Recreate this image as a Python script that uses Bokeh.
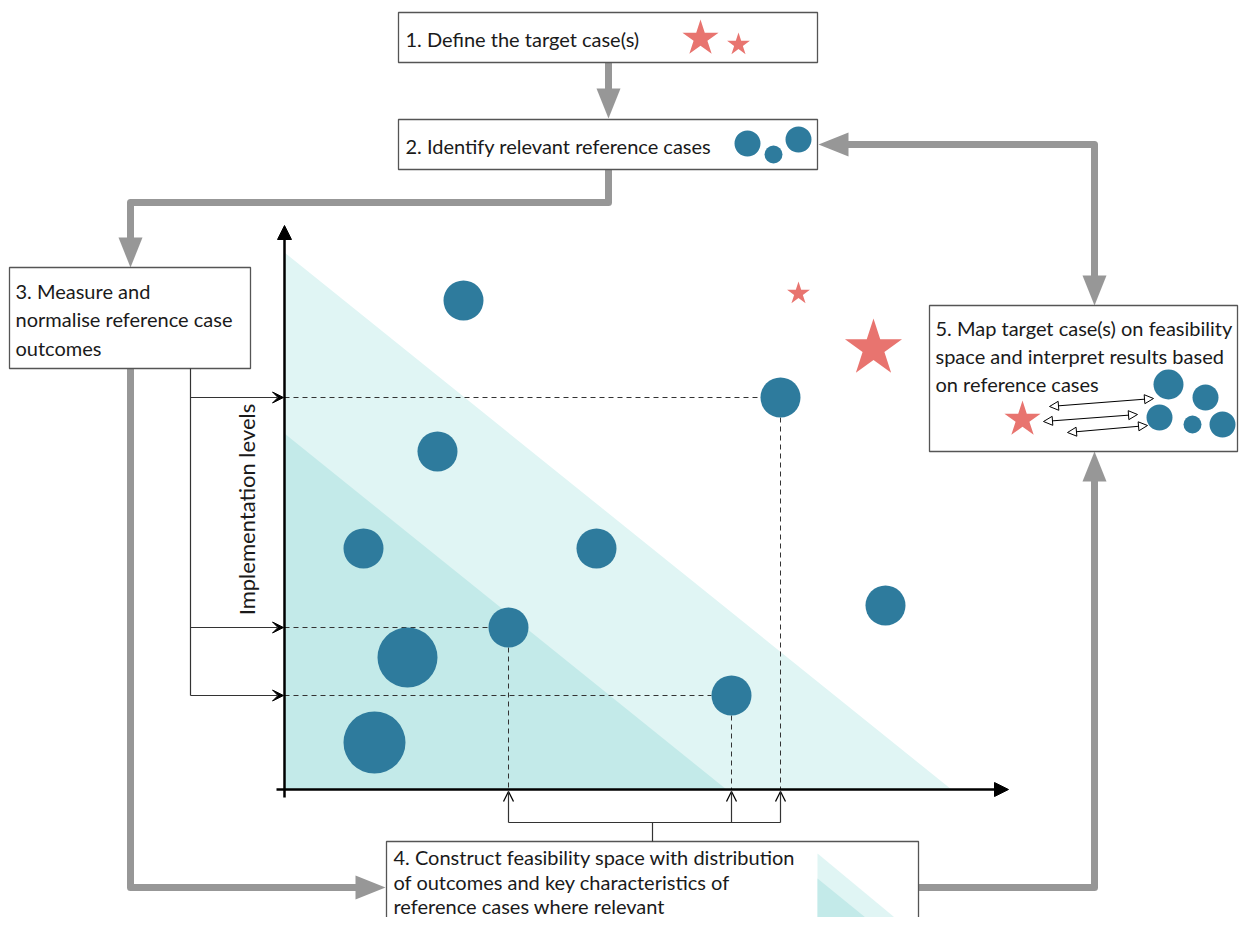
import math
from bokeh.plotting import figure
from bokeh.models import Range1d, Arrow, NormalHead, VeeHead, OpenHead
from bokeh.core.properties import value
from bokeh.embed import file_html
from bokeh.resources import INLINE

# ---------------- data (diagram coordinates, pixels from top-left) ----------------
# reference cases in the feasibility space
case_x = [463, 780, 437, 363, 596, 885, 508, 407, 731, 374]
case_y = [300, 397, 451, 548, 548, 605, 627, 657, 695, 742]
case_r = [20, 20, 20, 20, 20, 20, 20, 30, 20, 31]
# target cases (stars) in the feasibility space
target_x = [798, 873]
target_y = [293, 348]
target_r = [12, 30]
# reference cases whose levels are projected on the axes
level_cases = [1, 6, 8]

# axes of the feasibility space
axis_x0, axis_y0 = 284, 789
axis_x_end, axis_y_end = 1008, 225
# feasibility zones: (top on y axis, end on x axis)
zone_top = [252, 433]
zone_end = [951, 726]

# process boxes
box_left = [398, 398, 9, 386, 929]
box_right = [817, 817, 250, 918, 1237]
box_top = [12, 119, 267, 841, 305]
box_bottom = [62, 169, 368, 945, 451]

step_text = ["1. Define the target case(s)",
             "2. Identify relevant reference cases",
             "3. Measure and", "normalise reference case", "outcomes",
             "4. Construct feasibility space with distribution",
             "of outcomes and key characteristics of",
             "reference cases where relevant",
             "5. Map target case(s) on feasibility",
             "space and interpret results based",
             "on reference cases"]
step_x = [405, 405, 15, 15, 15, 393, 393, 393, 935, 935, 935]
step_y = [38, 145, 290, 318, 347, 856, 881, 905, 327, 355, 383]

# icons in the boxes
icon_star_x = [700, 738, 1022]
icon_star_y = [38, 44, 419]
icon_star_r = [19, 12, 19]
icon_circ_x = [747, 773, 798, 1168, 1205, 1159, 1192, 1222]
icon_circ_y = [143, 154, 139, 384, 397, 417, 424, 424]
icon_circ_r = [13, 9, 13, 15, 13, 13, 9, 13]
# double arrows in box 5
map_x0 = [1049, 1043, 1067]
map_y0 = [406, 421, 432]
map_x1 = [1153, 1137, 1147]
map_y1 = [398, 414, 425]

FONT = "Lato"
FS = "20px"
TEXT_C = "#1a1a1a"
GRAY = "#979797"
BLUE = "#2E7B9D"
RED = "#E8746F"
LIGHT = "#E0F5F4"
DARK = "#C3EAE9"

p = figure(width=1239, height=917, x_range=Range1d(0, 1239), y_range=Range1d(917, 0),
           output_backend="svg", toolbar_location=None, min_border=0,
           x_axis_location=None, y_axis_location=None)
p.grid.visible = False
p.outline_line_color = None
p.background_fill_color = "white"
p.border_fill_color = "white"


def star_pts(cx, cy, r, ratio=0.382):
    xs, ys = [], []
    for k in range(10):
        ang = -math.pi / 2 + k * math.pi / 5
        rr = r if k % 2 == 0 else r * ratio
        xs.append(cx + rr * math.cos(ang))
        ys.append(cy + rr * math.sin(ang))
    return xs, ys


# ---------------- feasibility zones ----------------
p.patch([axis_x0, axis_x0, zone_end[0]], [zone_top[0], axis_y0, axis_y0],
        fill_color=LIGHT, line_color=None)
p.patch([axis_x0, axis_x0, zone_end[1]], [zone_top[1], axis_y0, axis_y0],
        fill_color=DARK, line_color=None)

# dashed projection lines
for i in level_cases:
    cx, cy, r = case_x[i], case_y[i], case_r[i]
    p.line([axis_x0, cx - r], [cy, cy], line_color="#333333", line_width=1, line_dash="5 4")
    p.line([cx, cx], [cy + r, axis_y0], line_color="#333333", line_width=1, line_dash="5 4")

# axes
p.add_layout(Arrow(end=NormalHead(size=14, fill_color="black", line_color="black"),
                   x_start=axis_x0, y_start=axis_y0 + 8, x_end=axis_x0, y_end=axis_y_end,
                   line_width=2.5, line_color="black"))
p.add_layout(Arrow(end=NormalHead(size=14, fill_color="black", line_color="black"),
                   x_start=axis_x0 - 8, y_start=axis_y0, x_end=axis_x_end, y_end=axis_y0,
                   line_width=2.5, line_color="black"))

p.text(x=[246], y=[509], text=["Implementation levels"], angle=math.pi / 2,
       text_font=value(FONT), text_font_size="22px", text_color=TEXT_C,
       text_align="center", text_baseline="middle")

# reference cases and targets
p.circle(x=case_x, y=case_y, radius=case_r, fill_color=BLUE, line_color=None)
sx, sy = [], []
for cx, cy, r in zip(target_x, target_y, target_r):
    a, b = star_pts(cx, cy, r)
    sx.append(a); sy.append(b)
p.patches(sx, sy, fill_color=RED, line_color=None)

# ---------------- gray process arrows ----------------
gray_paths_x = [[608, 608], [608, 608, 130, 130], [130, 130, 357],
                [918, 1094, 1094], [846, 1094, 1094]]
gray_paths_y = [[62, 90], [169, 202, 202, 240], [368, 887, 887],
                [887, 887, 480], [144, 144, 277]]
p.multi_line(gray_paths_x, gray_paths_y, line_color=GRAY, line_width=7,
             line_join="round", line_cap="butt")
heads = [(608, 118, "down"), (130, 267, "down"), (385, 887, "right"),
         (1094, 451, "up"), (818, 144, "left"), (1094, 305, "down")]
hx, hy = [], []
L, W = 30, 12
for tx, ty, d in heads:
    if d == "down":
        hx.append([tx - W, tx + W, tx]); hy.append([ty - L, ty - L, ty])
    elif d == "up":
        hx.append([tx - W, tx + W, tx]); hy.append([ty + L, ty + L, ty])
    elif d == "right":
        hx.append([tx - L, tx - L, tx]); hy.append([ty - W, ty + W, ty])
    else:
        hx.append([tx + L, tx + L, tx]); hy.append([ty - W, ty + W, ty])
p.patches(hx, hy, fill_color=GRAY, line_color=None)

# ---------------- boxes ----------------
p.quad(left=box_left, right=box_right, top=box_top, bottom=box_bottom,
       fill_color="white", line_color="#555555", line_width=1.3)
p.text(x=step_x, y=step_y, text=step_text, text_font=value(FONT),
       text_font_size=FS, text_color=TEXT_C, text_align="left",
       text_baseline="middle")

# icons
p.circle(x=icon_circ_x, y=icon_circ_y, radius=icon_circ_r, fill_color=BLUE, line_color=None)
sx, sy = [], []
for cx, cy, r in zip(icon_star_x, icon_star_y, icon_star_r):
    a, b = star_pts(cx, cy, r)
    sx.append(a); sy.append(b)
p.patches(sx, sy, fill_color=RED, line_color=None)

# mini feasibility space in box 4
p.patch([817, 817, 905], [853, 926, 926], fill_color=LIGHT, line_color=None)
p.patch([817, 817, 876], [878, 926, 926], fill_color=DARK, line_color=None)

# double arrows in box 5
for x0, y0, x1, y1 in zip(map_x0, map_y0, map_x1, map_y1):
    p.add_layout(Arrow(start=NormalHead(size=9, fill_color="white", line_color="black", line_width=1),
                       end=NormalHead(size=9, fill_color="white", line_color="black", line_width=1),
                       x_start=x0, y_start=y0, x_end=x1, y_end=y1,
                       line_width=1.2, line_color="black"))

# ---------------- thin connectors ----------------
bracket_x = 190
p.line([bracket_x, bracket_x], [368, case_y[level_cases[-1]]], line_color="#333333", line_width=1.2)
for i in level_cases:
    p.add_layout(Arrow(end=VeeHead(size=11, fill_color="black", line_color="black"),
                       x_start=bracket_x, y_start=case_y[i], x_end=axis_x0 - 1, y_end=case_y[i],
                       line_width=1.2, line_color="#333333"))

bottom_y = 822
xs_level = [case_x[i] for i in level_cases]
p.line([652, 652], [841, bottom_y], line_color="#333333", line_width=1.2)
p.line([min(xs_level), max(xs_level)], [bottom_y, bottom_y], line_color="#333333", line_width=1.2)
for xv in xs_level:
    p.add_layout(Arrow(end=OpenHead(size=10, line_color="black", line_width=1.3),
                       x_start=xv, y_start=bottom_y, x_end=xv, y_end=axis_y0 + 2,
                       line_width=1.2, line_color="#333333"))

open("out.html", "w").write(file_html(p, INLINE))
